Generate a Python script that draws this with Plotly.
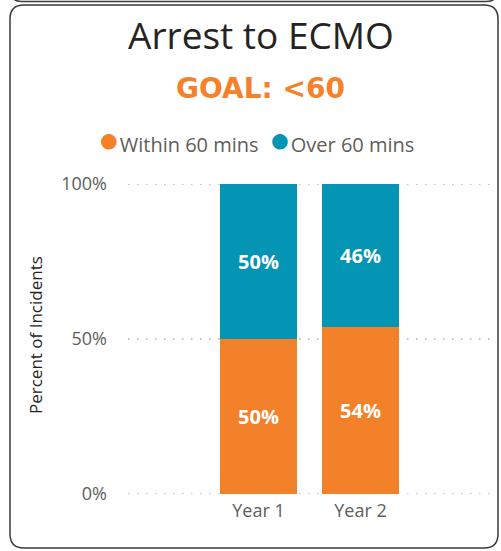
import plotly.graph_objects as go

categories = ["Year 1", "Year 2"]
within_60 = [50, 54]
over_60 = [50, 46]
series_names = ["Within 60 mins", "Over 60 mins"]
y_ticks = [0, 50, 100]
y_tick_labels = ["0%", "50%", "100%"]

ORANGE = "#F28129"
TEAL = "#0494B4"
W, H = 501, 551
L, R, T, B = 128, 11, 184, 57
PW, PH = W - L - R, H - T - B

def px(x):
    return (x - L) / PW

def py(y):
    return (H - B - y) / PH

fig = go.Figure()
for name, vals, col in [(series_names[0], within_60, ORANGE), (series_names[1], over_60, TEAL)]:
    fig.add_trace(go.Bar(
        x=[0, 1], y=vals, name=name, marker=dict(color=col, line=dict(width=0)),
        width=0.755, text=[f"{v}%" for v in vals], textposition="inside",
        insidetextanchor="middle",
        textfont=dict(family="Open Sans", size=20, color="white", weight="bold"),
        showlegend=False, hoverinfo="skip",
    ))

# dotted gridlines
for v in y_ticks:
    fig.add_shape(type="line", xref="paper", yref="y", x0=0, x1=1, y0=v, y1=v,
                  line=dict(color="#AEACAA", width=1.4, dash="1.5px,7.5px"), layer="below")

fig.update_layout(
    width=W, height=H, barmode="stack",
    margin=dict(l=L, r=R, t=T, b=B, pad=0),
    paper_bgcolor="white", plot_bgcolor="white",
    xaxis=dict(range=[-1.28, 2.27], tickvals=[0, 1], ticktext=categories,
               showgrid=False, zeroline=False, showline=False,
               tickfont=dict(family="Open Sans", size=18, color="#605E5C"),
               ticks="", ticklabelstandoff=4, fixedrange=True),
    yaxis=dict(range=[0, 100], tickvals=y_ticks, ticktext=y_tick_labels,
               showgrid=False, zeroline=False, showline=False, ticks="",
               tickfont=dict(family="Open Sans", size=18, color="#605E5C"),
               ticklabelstandoff=20, fixedrange=True),
    showlegend=False,
)

# card border
r = 14
x0, x1, y0, y1 = px(10), px(498), py(5), py(548)
rx, ry = r / PW, r / PH
path = (f"M {x0+rx},{y0} L {x1-rx},{y0} Q {x1},{y0} {x1},{y0-ry} "
        f"L {x1},{y1+ry} Q {x1},{y1} {x1-rx},{y1} L {x0+rx},{y1} Q {x0},{y1} {x0},{y1+ry} "
        f"L {x0},{y0-ry} Q {x0},{y0} {x0+rx},{y0} Z")
fig.add_shape(type="path", path=path, xref="paper", yref="paper",
              line=dict(color="#3A3A3A", width=1.5), layer="below")
# bottom of previous card above
path2 = (f"M {px(10)},{py(-10)} Q {px(10)},{py(1.5)} {px(22)},{py(1.5)} "
         f"L {px(486)},{py(1.5)} Q {px(498)},{py(1.5)} {px(498)},{py(-10)}")
fig.add_shape(type="path", path=path2, xref="paper", yref="paper",
              line=dict(color="#3A3A3A", width=1.5), layer="below")

fig.add_annotation(text="Arrest to ECMO", x=px(260.5), y=py(35), xref="paper", yref="paper",
                   showarrow=False, xanchor="center", yanchor="middle",
                   font=dict(family="Open Sans", size=37, color="#252423"))
fig.add_annotation(text="<b>GOAL: &lt;60</b>", x=px(260.5), y=py(88), xref="paper", yref="paper",
                   showarrow=False, xanchor="center", yanchor="middle",
                   font=dict(family="DejaVu Sans", size=28, color="#F5812A"))
legend_text = (f"<span style='color:{ORANGE};font-size:36px'>●</span>{series_names[0]}  "
               f"<span style='color:{TEAL};font-size:36px'>●</span>{series_names[1]}")
fig.add_annotation(text=legend_text, x=px(256), y=py(138), xref="paper", yref="paper",
                   showarrow=False, xanchor="center", yanchor="middle",
                   font=dict(family="Open Sans", size=20, color="#605E5C"))
fig.add_annotation(text="Percent of Incidents", x=px(35), y=py(335), xref="paper", yref="paper",
                   showarrow=False, xanchor="center", yanchor="middle", textangle=-90,
                   font=dict(family="Open Sans", size=17, color="#252423"))

fig.write_html("out.html", config={"displayModeBar": False},
               post_script="document.body.style.margin='0px';")
